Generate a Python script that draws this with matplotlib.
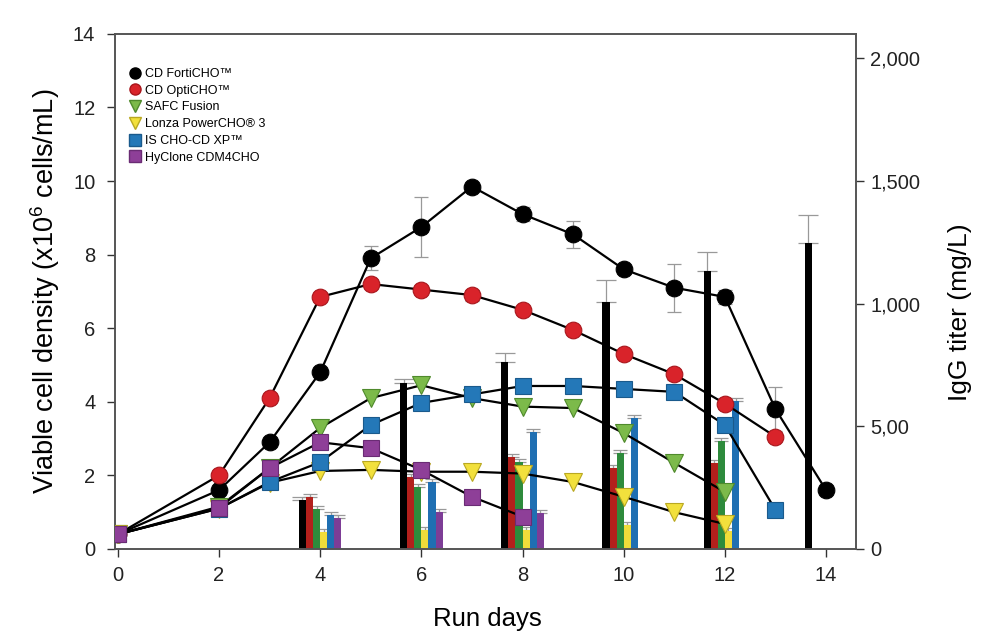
import matplotlib
matplotlib.use("Agg")
import matplotlib.pyplot as plt
from matplotlib.lines import Line2D
import numpy as np

plt.rcParams['font.family'] = ['Liberation Sans', 'DejaVu Sans']
plt.rcParams['mathtext.fontset'] = 'custom'
plt.rcParams['mathtext.rm'] = 'Liberation Sans'

# viable cell density (x10^6 cells/mL)
forticho_days = [0, 2, 3, 4, 5, 6, 7, 8, 9, 10, 11, 12, 13, 14]
forticho_vcd = [0.4, 1.6, 2.9, 4.8, 7.9, 8.75, 9.85, 9.1, 8.55, 7.6, 7.1, 6.85, 3.8, 1.6]
forticho_err = [0, 0, 0, 0, 0.33, 0.82, 0, 0.2, 0.37, 0.1, 0.65, 0.2, 0.6, 0.1]

opticho_days = [0, 2, 3, 4, 5, 6, 7, 8, 9, 10, 11, 12, 13]
opticho_vcd = [0.4, 2.0, 4.1, 6.85, 7.2, 7.05, 6.9, 6.5, 5.95, 5.3, 4.75, 3.95, 3.05]
opticho_err = [0, 0, 0, 0.1, 0.1, 0.1, 0.15, 0, 0, 0, 0.15, 0.15, 0.1]

safc_days = [0, 2, 3, 4, 5, 6, 7, 8, 9, 10, 11, 12]
safc_vcd = [0.4, 1.15, 2.2, 3.29, 4.1, 4.45, 4.1, 3.87, 3.83, 3.15, 2.34, 1.55]

lonza_days = [0, 2, 3, 4, 5, 6, 7, 8, 9, 10, 11, 12]
lonza_vcd = [0.4, 1.1, 1.8, 2.12, 2.15, 2.1, 2.1, 2.05, 1.82, 1.42, 1.0, 0.68]

xp_days = [0, 2, 3, 4, 5, 6, 7, 8, 9, 10, 11, 12, 13]
xp_vcd = [0.4, 1.1, 1.82, 2.36, 3.37, 3.97, 4.2, 4.43, 4.43, 4.35, 4.27, 3.37, 1.06]

hyclone_days = [0, 2, 3, 4, 5, 6, 7, 8]
hyclone_vcd = [0.4, 1.12, 2.2, 2.9, 2.74, 2.15, 1.42, 0.88]

# IgG titer (mg/L)
titer_days = [4, 6, 8, 10, 12, 14]
forticho_titer = [200, 678, 762, 1006, 1133, 1247]
forticho_titer_err = [10, 15, 37, 90, 77, 114]
opticho_titer = [212, 294, 376, 330, 350, np.nan]
safc_titer = [163, 253, 355, 391, 440, np.nan]
lonza_titer = [69, 78, 78, 98, 75, np.nan]
xp_titer = [139, 273, 478, 534, 605, np.nan]
hyclone_titer = [126, 150, 147, np.nan, np.nan, np.nan]
small_err = [12, 12, 12, 12, 12, 12]

labels = ['CD FortiCHO\u2122', 'CD OptiCHO\u2122', 'SAFC Fusion',
          'Lonza PowerCHO\u00ae 3', 'IS CHO-CD XP\u2122', 'HyClone CDM4CHO']

fig = plt.figure(figsize=(9.81, 6.38), dpi=100)
ax = fig.add_axes([0.117, 0.1395, 0.756, 0.8075])
ax2 = ax.twinx()

# bars (titer) on right axis
bar_colors = ['#000000', '#b3201c', '#2e8b3c', '#f0dc3a', '#1f6fb2', '#7d3d96']
titers = [forticho_titer, opticho_titer, safc_titer, lonza_titer, xp_titer, hyclone_titer]
errs = [forticho_titer_err] + [small_err] * 5
w = 0.14
td = np.array(titer_days, dtype=float)
for i, (vals, col, e) in enumerate(zip(titers, bar_colors, errs)):
    x = td + (i - 2.5) * w
    ax2.bar(x, vals, width=w, color=col, edgecolor='none', zorder=2)
    ax2.errorbar(x, vals, yerr=[np.zeros(len(e)), e], fmt='none', ecolor='#999999',
                 elinewidth=0.9, capsize=7 if i == 0 else 5, capthick=0.9, zorder=1)

ax2.set_ylim(0, 2100)
ax2.set_yticks([0, 500, 1000, 1500, 2000])
ax2.set_yticklabels(['0', '5,00', '1,000', '1,500', '2,000'])
ax2.set_ylabel('IgG titer (mg/L)', fontsize=19)
ax2.yaxis.set_label_coords(1.123, 0.46)

# lines (viable cell density) on left axis
series = [
    (forticho_days, forticho_vcd, 'o', '#000000', '#000000'),
    (opticho_days, opticho_vcd, 'o', '#d9232a', '#a8161c'),
    (safc_days, safc_vcd, 'v', '#7cba4a', '#4f8a2c'),
    (lonza_days, lonza_vcd, 'v', '#f2e03c', '#b9a822'),
    (xp_days, xp_vcd, 's', '#2478b8', '#1a5a8c'),
    (hyclone_days, hyclone_vcd, 's', '#8e3f98', '#6a2c74'),
]

ax.errorbar(forticho_days, forticho_vcd, yerr=forticho_err, fmt='none', ecolor='#999999',
            elinewidth=0.9, capsize=5, capthick=0.9, zorder=2)
ax.errorbar(opticho_days, opticho_vcd, yerr=opticho_err, fmt='none', ecolor='#999999',
            elinewidth=0.9, capsize=5, capthick=0.9, zorder=2)

handles = []
for (d, v, m, fc, ec), lab in zip(series, labels):
    ms = 13 if m == 'v' else 12
    ax.plot(d, v, color='black', lw=1.6, marker=m, markersize=ms,
            markerfacecolor=fc, markeredgecolor=ec, markeredgewidth=0.8, zorder=3)
    handles.append(Line2D([], [], ls='none', marker=m, markersize=8,
                          markerfacecolor=fc, markeredgecolor=ec, label=lab))

ax.set_zorder(ax2.get_zorder() + 1)
ax.patch.set_visible(False)

ax.set_xlim(-0.06, 14.6)
ax.set_ylim(0, 14)
ax.set_xticks(range(0, 15, 2))
ax.set_yticks(range(0, 15, 2))
ax.set_xlabel('Run days', fontsize=18.5)
ax.xaxis.set_label_coords(0.503, -0.112)
ax.set_ylabel('Viable cell density (x10$^{6}$ cells/mL)', fontsize=19.5, labelpad=8)

for a in (ax, ax2):
    a.tick_params(direction='out', length=6, width=1, labelsize=14.5, colors='#333333',
                  labelcolor='#222222')
    for s in a.spines.values():
        s.set_color('#555555')
        s.set_linewidth(1.2)
ax.tick_params(axis='x', pad=6)
ax.tick_params(axis='y', pad=8)
ax2.tick_params(axis='y', pad=4)

ax.legend(handles=handles, loc='upper left', bbox_to_anchor=(0.0, 0.958), frameon=False,
          fontsize=9, handletextpad=0.2, labelspacing=0.38, borderaxespad=0.6,
          handlelength=1.2)

fig.savefig('out.png', dpi=100)
